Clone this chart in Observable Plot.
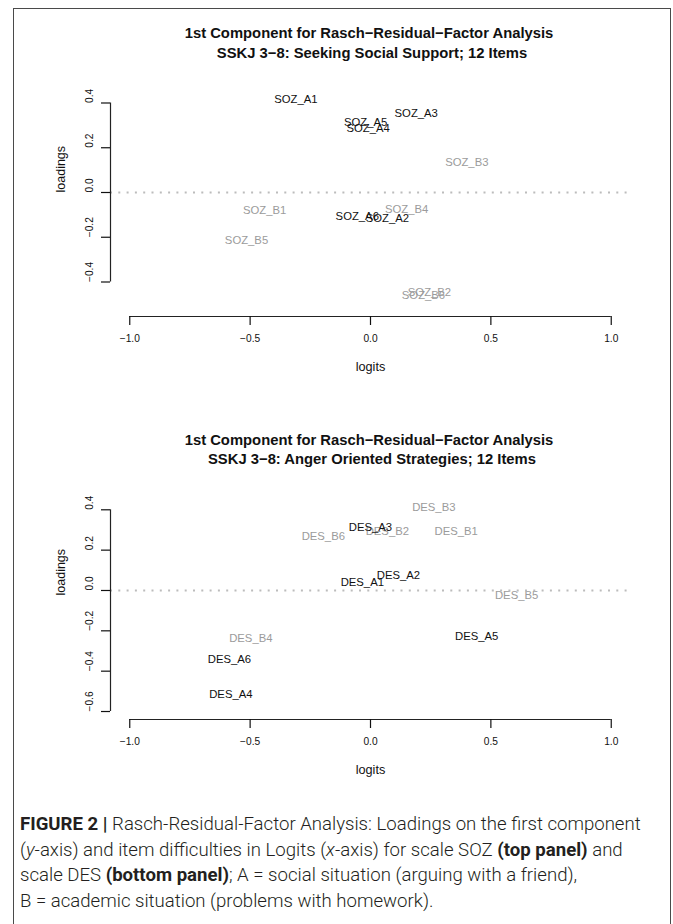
<!DOCTYPE html>
<html>
<head>
<meta charset="utf-8">
<script src="https://cdn.jsdelivr.net/npm/d3@7"></script>
<script src="https://cdn.jsdelivr.net/npm/@observablehq/plot@0.6"></script>
<style>
  html, body { margin: 0; padding: 0; background: #fff; overflow: hidden; }
  #fig { position: relative; width: 673px; height: 924px; font-family: "Liberation Sans", Arial, sans-serif; }
  .frame { position: absolute; left: 13px; top: 8px; width: 656px; height: 930px; border: 1px solid #4a4a4a; border-bottom: none; pointer-events: none; z-index: 5; }
  .title { position: absolute; width: 600px; text-align: center; font-weight: bold; font-size: 14.8px; line-height: 18px; color: #111; white-space: nowrap; }
  .panel { position: absolute; left: 0; }
  .caption { position: absolute; left: 20px; top: 812px; width: 650px; font-family: Roboto, "Liberation Sans", sans-serif; font-weight: 300; font-size: 18.6px; line-height: 25.7px; color: #231f20; white-space: nowrap; }
  .caption b { font-weight: 700; }
</style>
</head>
<body>
<div id="fig">
  <div class="frame"></div>
</div>
<script>
// ---------- data ----------
const xTicks = [-1, -0.5, 0, 0.5, 1];

const titleMain = "1st Component for Rasch\u2212Residual\u2212Factor Analysis";
const sozSubtitle = "SSKJ 3\u22128: Seeking Social Support; 12 Items";
const desSubtitle = "SSKJ 3\u22128: Anger Oriented Strategies; 12 Items";

const sozItems    = ["SOZ_A1", "SOZ_A2", "SOZ_A3", "SOZ_A4", "SOZ_A5", "SOZ_A6", "SOZ_B1", "SOZ_B2", "SOZ_B3", "SOZ_B4", "SOZ_B5", "SOZ_B6"];
const sozLogits   = [-0.31, 0.07, 0.19, -0.01, -0.02, -0.055, -0.44, 0.245, 0.40, 0.15, -0.515, 0.22];
const sozLoadings = [0.417, -0.116, 0.354, 0.286, 0.312, -0.107, -0.079, -0.446, 0.133, -0.077, -0.216, -0.461];
const sozYTicks   = [-0.4, -0.2, 0, 0.2, 0.4];

const desItems    = ["DES_A1", "DES_A2", "DES_A3", "DES_A4", "DES_A5", "DES_A6", "DES_B1", "DES_B2", "DES_B3", "DES_B4", "DES_B5", "DES_B6"];
const desLogits   = [-0.034, 0.116, 0.0, -0.58, 0.441, -0.586, 0.356, 0.07, 0.263, -0.497, 0.607, -0.196];
const desLoadings = [0.038, 0.076, 0.314, -0.513, -0.227, -0.342, 0.291, 0.294, 0.413, -0.238, -0.025, 0.27];
const desYTicks   = [-0.6, -0.4, -0.2, 0, 0.2, 0.4];

// ---------- drawing ----------
const fig = document.getElementById("fig");
const fmt = d3.format(".1f");
const xDomain = [-1.08, 1.08];

function addTitle(text, centerX, top) {
  const d = document.createElement("div");
  d.className = "title";
  d.textContent = text;
  d.style.left = (centerX - 300) + "px";
  d.style.top = top + "px";
  fig.appendChild(d);
}

function panel({items, logits, loadings, yTicks, yDomain, marginTop, marginBottom, height, top}) {
  const data = items.map((name, i) => ({name, x: logits[i], y: loadings[i], group: name.split("_")[1][0]}));
  const chart = Plot.plot({
    width: 673,
    height,
    marginLeft: 110,
    marginRight: 43,
    marginTop,
    marginBottom,
    x: {domain: xDomain, axis: null},
    y: {domain: yDomain, axis: null},
    style: {background: "transparent", overflow: "visible", fontFamily: "'Liberation Sans', Arial, sans-serif", color: "#111"},
    marks: [
      Plot.text(data.filter(d => d.group === "B"), {x: "x", y: "y", text: "name", fill: "#9b9b9b", fontSize: 11.3}),
      Plot.text(data.filter(d => d.group === "A"), {x: "x", y: "y", text: "name", fill: "#111", fontSize: 11.3}),
      Plot.ruleY([0], {x1: xDomain[0], x2: xDomain[1], stroke: "#bcbcbc", strokeWidth: 2, strokeDasharray: "2,6.3"}),
      // x axis
      Plot.ruleY([yDomain[0]], {x1: xTicks[0], x2: xTicks[xTicks.length - 1], stroke: "#222", strokeWidth: 1.2}),
      Plot.axisX({ticks: xTicks, anchor: "bottom", tickSize: 9, tickPadding: 9.5, tickFormat: fmt, fontSize: 10.2, label: null, strokeWidth: 1.2}),
      Plot.text(["logits"], {frameAnchor: "bottom", dy: 54, fontSize: 12.7}),
      // y axis
      Plot.ruleX([xDomain[0]], {y1: yTicks[0], y2: yTicks[yTicks.length - 1], stroke: "#222", strokeWidth: 1.2}),
      Plot.axisY({ticks: yTicks, anchor: "left", tickSize: 9, tickFormat: () => "", label: null, strokeWidth: 1.2}),
      Plot.text(yTicks, {y: d => d, frameAnchor: "left", text: d => fmt(d), rotate: -90, dx: -21, fontSize: 10.2}),
      Plot.text(["loadings"], {frameAnchor: "left", dx: -50, dy: -13.5, rotate: -90, fontSize: 12.5})
    ]
  });
  chart.classList.add("panel");
  chart.style.top = top + "px";
  fig.appendChild(chart);
}

// top panel
addTitle(titleMain, 369, 24);
addTitle(sozSubtitle, 372, 44);
panel({items: sozItems, logits: sozLogits, loadings: sozLoadings, yTicks: sozYTicks,
       yDomain: [-0.5542, 0.4335], marginTop: 95, marginBottom: 84, height: 400, top: 0});

// bottom panel
addTitle(titleMain, 369, 431);
addTitle(desSubtitle, 372, 450);
panel({items: desItems, logits: desLogits, loadings: desLoadings, yTicks: desYTicks,
       yDomain: [-0.6396, 0.456], marginTop: 98, marginBottom: 81, height: 400, top: 400});

// caption
const cap = document.createElement("div");
cap.className = "caption";
cap.innerHTML = "<b>FIGURE 2 |</b> Rasch-Residual-Factor Analysis: Loadings on the first component<br>" +
  "(<i>y</i>-axis) and item difficulties in Logits (<i>x</i>-axis) for scale SOZ <b>(top panel)</b> and<br>" +
  "scale DES <b>(bottom panel)</b>; A = social situation (arguing with a friend),<br>" +
  "B = academic situation (problems with homework).";
fig.appendChild(cap);
</script>
</body>
</html>
